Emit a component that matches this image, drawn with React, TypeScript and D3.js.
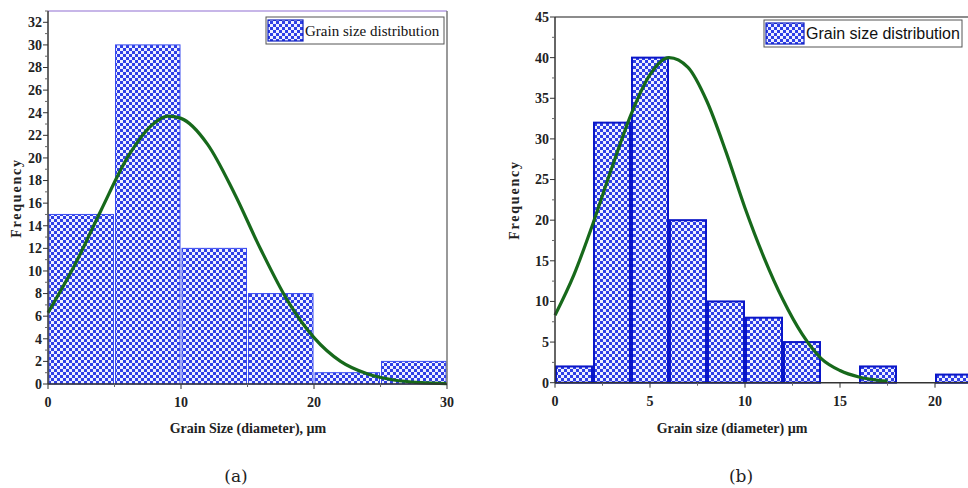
import * as d3 from 'd3';
import { useEffect, useRef } from 'react';

// panel (a)
const binsA = [0, 5, 10, 15, 20, 25];
const countsA = [15, 30, 12, 8, 1, 2];
const curveXA = [0, 2, 4, 6, 8, 9, 10, 12, 14, 16, 18, 20, 22, 24, 26, 28, 30];
const curveYA = [6.3, 10.5, 15.4, 20.1, 23.1, 23.7, 23.5, 21.2, 16.9, 11.9, 7.4, 4.1, 2.0, 0.9, 0.35, 0.12, 0.04];
const yTicksA = [0, 2, 4, 6, 8, 10, 12, 14, 16, 18, 20, 22, 24, 26, 28, 30, 32];
const xTicksA = [0, 10, 20, 30];

// panel (b)
const binsB = [0, 2, 4, 6, 8, 10, 12, 14, 16, 18, 20];
const countsB = [2, 32, 40, 20, 10, 8, 5, 0, 2, 0, 1];
const curveXB = [0, 1, 2, 3, 4, 5, 6, 7, 8, 9, 10, 11, 12, 13, 14, 15, 16, 17, 17.5];
const curveYB = [8.3, 13.3, 19.6, 26.5, 33.0, 37.9, 40, 38.8, 34.6, 28.4, 21.5, 15.4, 10.2, 6.0, 3.0, 1.5, 0.7, 0.3, 0.2];
const yTicksB = [0, 5, 10, 15, 20, 25, 30, 35, 40, 45];
const xTicksB = [0, 5, 10, 15, 20];

const legendLabel = 'Grain size distribution';
const serif = "'Liberation Serif', 'Times New Roman', serif";
const sans = "'Liberation Sans', Arial, sans-serif";

const App = () => {
  const ref = useRef<SVGSVGElement | null>(null);

  useEffect(() => {
    const svg = d3.select(ref.current);
    svg.selectAll('*').remove();

    const defs = svg.append('defs');
    const pat = defs
      .append('pattern')
      .attr('id', 'checker')
      .attr('patternUnits', 'userSpaceOnUse')
      .attr('width', 6)
      .attr('height', 6);
    pat.append('rect').attr('width', 6).attr('height', 6).attr('fill', '#2f3fe6');
    pat.append('rect').attr('x', 0).attr('y', 0).attr('width', 3).attr('height', 3).attr('fill', '#eef0ff');
    pat.append('rect').attr('x', 3).attr('y', 3).attr('width', 3).attr('height', 3).attr('fill', '#eef0ff');

    const drawPanel = (o: {
      x0: number; x1: number; xDom: [number, number];
      y0: number; y1: number; yDom: [number, number];
      bins: number[]; counts: number[]; binW: number;
      cx: number[]; cy: number[];
      yTicks: number[]; yMinorStep: number;
      xTicks: number[]; xMinorStep: number;
      barStroke: string; barStrokeW: number;
      topColor: string; rightColor: string; frameRight: number;
      legend: { x: number; y: number; w: number; h: number; sw: number; font: string; size: number };
      yTitle: { x: number; y: number; text: string };
      xTitle: { x: number; y: number; text: string };
      caption: { x: number; y: number; text: string };
    }) => {
      const x = d3.scaleLinear().domain(o.xDom).range([o.x0, o.x1]);
      const y = d3.scaleLinear().domain(o.yDom).range([o.y0, o.y1]);
      const g = svg.append('g');

      // bars
      g.selectAll('rect.bar')
        .data(o.bins.map((b, i) => ({ b, c: o.counts[i] })).filter((d) => d.c > 0))
        .join('rect')
        .attr('class', 'bar')
        .attr('x', (d) => x(d.b) + 1)
        .attr('width', (d) => x(d.b + o.binW) - x(d.b) - 2)
        .attr('y', (d) => y(d.c))
        .attr('height', (d) => y(0) - y(d.c))
        .attr('fill', 'url(#checker)')
        .attr('stroke', o.barStroke)
        .attr('stroke-width', o.barStrokeW);

      // fitted curve
      const line = d3
        .line<number>()
        .x((_, i) => x(o.cx[i]))
        .y((d) => y(d))
        .curve(d3.curveMonotoneX);
      g.append('path')
        .attr('d', line(o.cy))
        .attr('fill', 'none')
        .attr('stroke', '#17691b')
        .attr('stroke-width', 3.2);

      // frame
      g.append('line').attr('x1', o.x0).attr('x2', o.frameRight).attr('y1', o.y1).attr('y2', o.y1)
        .attr('stroke', o.topColor).attr('stroke-width', 1.5);
      if (o.frameRight < 968) {
        g.append('line').attr('x1', o.frameRight).attr('x2', o.frameRight).attr('y1', o.y1).attr('y2', o.y0)
          .attr('stroke', o.rightColor).attr('stroke-width', 1.5);
      }
      g.append('line').attr('x1', o.x0).attr('x2', o.x0).attr('y1', o.y1).attr('y2', o.y0)
        .attr('stroke', '#333').attr('stroke-width', 1.5);
      g.append('line').attr('x1', o.x0).attr('x2', o.frameRight).attr('y1', o.y0).attr('y2', o.y0)
        .attr('stroke', '#333').attr('stroke-width', 1.5);

      // y ticks
      const yMinor = d3.range(o.yDom[0], o.yDom[1] + 0.001, o.yMinorStep).filter((v) => !o.yTicks.includes(v));
      g.selectAll('line.ymaj').data(o.yTicks).join('line')
        .attr('x1', o.x0 - 5).attr('x2', o.x0).attr('y1', (d) => y(d)).attr('y2', (d) => y(d))
        .attr('stroke', '#333');
      g.selectAll('line.ymin').data(yMinor).join('line')
        .attr('x1', o.x0 - 3).attr('x2', o.x0).attr('y1', (d) => y(d)).attr('y2', (d) => y(d))
        .attr('stroke', '#666');
      g.selectAll('text.ylab').data(o.yTicks).join('text')
        .attr('x', o.x0 - 6).attr('y', (d) => y(d)).attr('dy', '0.35em')
        .attr('text-anchor', 'end')
        .attr('font-family', serif).attr('font-weight', 'bold').attr('font-size', 14)
        .attr('fill', '#222')
        .text((d) => d);

      // x ticks
      const xMinor = d3.range(o.xDom[0], o.xDom[1] + 0.001, o.xMinorStep).filter((v) => !o.xTicks.includes(v));
      g.selectAll('line.xmaj').data(o.xTicks).join('line')
        .attr('x1', (d) => x(d)).attr('x2', (d) => x(d)).attr('y1', o.y0).attr('y2', o.y0 + 5)
        .attr('stroke', '#333');
      g.selectAll('line.xmin').data(xMinor).join('line')
        .attr('x1', (d) => x(d)).attr('x2', (d) => x(d)).attr('y1', o.y0).attr('y2', o.y0 + 3)
        .attr('stroke', '#666');
      g.selectAll('text.xlab').data(o.xTicks).join('text')
        .attr('x', (d) => x(d)).attr('y', o.y0 + 23)
        .attr('text-anchor', 'middle')
        .attr('font-family', serif).attr('font-weight', 'bold').attr('font-size', 14)
        .attr('fill', '#222')
        .text((d) => d);

      // titles
      g.append('text')
        .attr('transform', `translate(${o.yTitle.x},${o.yTitle.y}) rotate(-90)`)
        .attr('text-anchor', 'middle')
        .attr('font-family', serif).attr('font-weight', 'bold').attr('font-size', 14)
        .attr('letter-spacing', 1.8)
        .attr('fill', '#222')
        .text(o.yTitle.text);
      g.append('text')
        .attr('x', o.xTitle.x).attr('y', o.xTitle.y)
        .attr('text-anchor', 'middle')
        .attr('font-family', serif).attr('font-weight', 'bold').attr('font-size', 14)
        .attr('fill', '#222')
        .text(o.xTitle.text);
      g.append('text')
        .attr('x', o.caption.x).attr('y', o.caption.y)
        .attr('text-anchor', 'middle')
        .attr('font-family', "'DejaVu Serif', serif").attr('font-size', 17)
        .attr('fill', '#222')
        .text(o.caption.text);

      // legend
      const L = o.legend;
      g.append('rect').attr('x', L.x).attr('y', L.y).attr('width', L.w).attr('height', L.h)
        .attr('fill', '#fff').attr('stroke', '#555').attr('stroke-width', 1);
      g.append('rect').attr('x', L.x + 2).attr('y', L.y + 3).attr('width', L.sw).attr('height', L.h - 6)
        .attr('fill', 'url(#checker)').attr('stroke', '#1020c0').attr('stroke-width', 1.2);
      g.append('text')
        .attr('x', L.x + L.sw + 4).attr('y', L.y + L.h / 2).attr('dy', '0.35em')
        .attr('font-family', L.font).attr('font-size', L.size)
        .attr('fill', '#111')
        .text(legendLabel);
    };

    drawPanel({
      x0: 48, x1: 447, xDom: [0, 30],
      y0: 384, y1: 11, yDom: [0, 33],
      bins: binsA, counts: countsA, binW: 5,
      cx: curveXA, cy: curveYA,
      yTicks: yTicksA, yMinorStep: 1,
      xTicks: xTicksA, xMinorStep: 5,
      barStroke: '#3a4cf0', barStrokeW: 1,
      topColor: '#b49ee0', rightColor: '#777', frameRight: 447,
      legend: { x: 266, y: 17, w: 178, h: 27, sw: 35, font: serif, size: 15 },
      yTitle: { x: 21, y: 198, text: 'Frequency' },
      xTitle: { x: 248, y: 433, text: 'Grain Size (diameter), µm' },
      caption: { x: 236, y: 482, text: '(a)' },
    });

    drawPanel({
      x0: 555, x1: 973, xDom: [0, 22],
      y0: 382.7, y1: 17, yDom: [0, 45],
      bins: binsB, counts: countsB, binW: 2,
      cx: curveXB, cy: curveYB,
      yTicks: yTicksB, yMinorStep: 2.5,
      xTicks: xTicksB, xMinorStep: 2.5,
      barStroke: '#0a16c8', barStrokeW: 2,
      topColor: '#666', rightColor: '#666', frameRight: 968,
      legend: { x: 764, y: 20, w: 198, h: 27, sw: 38, font: sans, size: 16 },
      yTitle: { x: 519, y: 200, text: 'Frequency' },
      xTitle: { x: 732, y: 433, text: 'Grain size (diameter) µm' },
      caption: { x: 741, y: 482, text: '(b)' },
    });
  }, []);

  return (
    <svg
      ref={ref}
      width={968}
      height={488}
      style={{ position: 'absolute', left: 0, top: 0, background: '#fff' }}
    ></svg>
  );
};

export default App;
